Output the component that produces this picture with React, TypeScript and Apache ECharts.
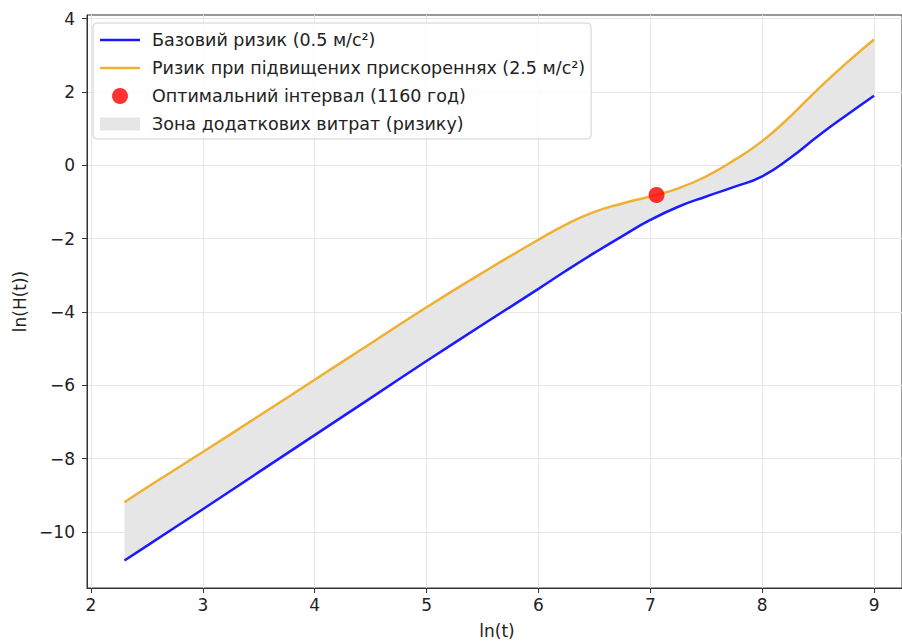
import React, { useEffect, useRef } from 'react';
import * as echarts from 'echarts';

// ln(t) sample positions
const lnT = [2.3, 2.5, 3, 3.5, 4, 4.5, 5, 5.5, 6, 6.25, 6.5, 6.75, 7, 7.25, 7.5, 7.75, 8, 8.25, 8.5, 8.75, 9];
// ln(H(t)) — base risk (0.5 m/s²)
const baseRisk = [-10.78, -10.38, -9.38, -8.37, -7.36, -6.35, -5.34, -4.35, -3.37, -2.87, -2.39, -1.93, -1.49, -1.13, -0.85, -0.59, -0.3, 0.2, 0.8, 1.36, 1.9];
// ln(H(t)) — elevated accelerations (2.5 m/s²)
const highRisk = [-9.19, -8.79, -7.82, -6.84, -5.85, -4.86, -3.87, -2.93, -2.03, -1.61, -1.27, -1.04, -0.85, -0.63, -0.3, 0.14, 0.66, 1.33, 2.08, 2.78, 3.43];
// optimal interval point (1160 h)
const optimalX = [7.056];
const optimalY = [-0.81];

const xTicks = [2, 3, 4, 5, 6, 7, 8, 9];
const yTicks = [-10, -8, -6, -4, -2, 0, 2, 4];

const NAME_BASE = 'Базовий ризик (0.5 м/с²)';
const NAME_HIGH = 'Ризик при підвищених прискореннях (2.5 м/с²)';
const NAME_OPT = 'Оптимальний інтервал (1160 год)';
const NAME_ZONE = 'Зона додаткових витрат (ризику)';

const FONT = 'DejaVu Sans';
const BLUE = '#1a1aff';
const ORANGE = '#f0b030';
const GRAY = '#e6e6e6';

export default function App() {
  const ref = useRef<HTMLDivElement>(null);

  useEffect(() => {
    const chart = echarts.init(ref.current as HTMLDivElement, null, { renderer: 'svg' });
    // band data stored as [y, x] so that the stacked dimension is the y value
    const baseYX = lnT.map((x, i) => [baseRisk[i], x]);
    const diffYX = lnT.map((x, i) => [highRisk[i] - baseRisk[i], x]);
    const basePts = lnT.map((x, i) => [x, baseRisk[i]]);
    const highPts = lnT.map((x, i) => [x, highRisk[i]]);
    const optPts = optimalX.map((x, i) => [x, optimalY[i]]);

    const linePath = 'path://M0,0H40V2.6H0Z';
    const rectPath = 'path://M0,0H40V13H0Z';

    chart.setOption({
      animation: false,
      backgroundColor: '#ffffff',
      textStyle: { fontFamily: FONT },
      grid: {
        left: 87,
        right: -2,
        top: 15,
        bottom: 56,
        show: true,
        borderColor: '#333333',
        borderWidth: 1,
        backgroundColor: 'transparent',
      },
      legend: {
        orient: 'vertical',
        left: 93,
        top: 23,
        selectedMode: false,
        itemWidth: 40,
        itemHeight: 16,
        itemGap: 10,
        padding: [8, 6, 6, 7],
        backgroundColor: 'rgba(255,255,255,0.8)',
        borderColor: '#d0d0d0',
        borderWidth: 1,
        borderRadius: 4,
        textStyle: { fontFamily: FONT, fontSize: 17.5, color: '#222', padding: [0, 0, 0, 7], lineHeight: 18 },
        data: [
          { name: NAME_BASE, icon: linePath, itemStyle: { color: BLUE, borderWidth: 0 } },
          { name: NAME_HIGH, icon: linePath, itemStyle: { color: ORANGE, borderWidth: 0 } },
          { name: NAME_OPT, icon: 'circle', itemStyle: { color: '#ff0000', borderWidth: 0 } },
          { name: NAME_ZONE, icon: rectPath, itemStyle: { color: GRAY, borderWidth: 0 } },
        ],
      },
      xAxis: {
        type: 'value',
        min: 1.965,
        max: 9.25,
        splitNumber: 7,
        name: 'ln(t)',
        nameLocation: 'middle',
        nameGap: 34,
        nameTextStyle: { fontFamily: FONT, fontSize: 17, color: '#222', padding: [0, 0, 0, 5] },
        axisLine: { show: true, onZero: false, lineStyle: { color: '#333', width: 1 } },
        axisTick: { show: true, length: 5, lineStyle: { color: '#333' }, customValues: xTicks },
        axisLabel: { fontFamily: FONT, fontSize: 17, color: '#222', margin: 8, customValues: xTicks },
        splitLine: { show: true, lineStyle: { color: '#e6e6e6', width: 1 } },
      },
      yAxis: {
        type: 'value',
        min: -11.53,
        max: 4.1,
        splitNumber: 8,
        name: 'ln(H(t))',
        nameLocation: 'middle',
        nameGap: 56,
        nameTextStyle: { fontFamily: FONT, fontSize: 17, color: '#222' },
        axisLine: { show: true, onZero: false, lineStyle: { color: '#333', width: 1 } },
        axisTick: { show: true, length: 5, lineStyle: { color: '#333' }, customValues: yTicks },
        axisLabel: {
          fontFamily: FONT, fontSize: 17, color: '#222', margin: 12, customValues: yTicks,
          formatter: (v: number) => (v < 0 ? '\u2212' + Math.abs(v) : String(v)),
        },
        splitLine: { show: true, lineStyle: { color: '#e6e6e6', width: 1 } },
      },
      series: [
        {
          name: '__base',
          type: 'line',
          data: baseYX,
          encode: { x: 1, y: 0 },
          stack: 'band',
          stackStrategy: 'all',
          smooth: true,
          showSymbol: false,
          symbol: 'none',
          lineStyle: { width: 0, opacity: 0 },
          silent: true,
          z: 1,
        },
        {
          name: NAME_ZONE,
          type: 'line',
          data: diffYX,
          encode: { x: 1, y: 0 },
          stack: 'band',
          stackStrategy: 'all',
          smooth: true,
          showSymbol: false,
          symbol: 'none',
          itemStyle: { color: GRAY },
          lineStyle: { width: 0, opacity: 0 },
          areaStyle: { color: GRAY, opacity: 1 },
          silent: true,
          z: 1,
        },
        {
          name: NAME_BASE,
          type: 'line',
          data: basePts,
          smooth: true,
          showSymbol: false,
          symbol: 'none',
          itemStyle: { color: BLUE },
          lineStyle: { color: BLUE, width: 2.5 },
          z: 2,
        },
        {
          name: NAME_HIGH,
          type: 'line',
          data: highPts,
          smooth: true,
          showSymbol: false,
          symbol: 'none',
          itemStyle: { color: ORANGE },
          lineStyle: { color: ORANGE, width: 2.5 },
          z: 3,
        },
        {
          name: NAME_OPT,
          type: 'scatter',
          data: optPts,
          symbolSize: 16,
          itemStyle: { color: '#ff0000' },
          z: 4,
        },
      ],
    });
    return () => chart.dispose();
  }, []);

  return (
    <div
      ref={ref}
      style={{ position: 'fixed', left: 0, top: 0, width: 902, height: 644, background: '#fff' }}
    />
  );
}
